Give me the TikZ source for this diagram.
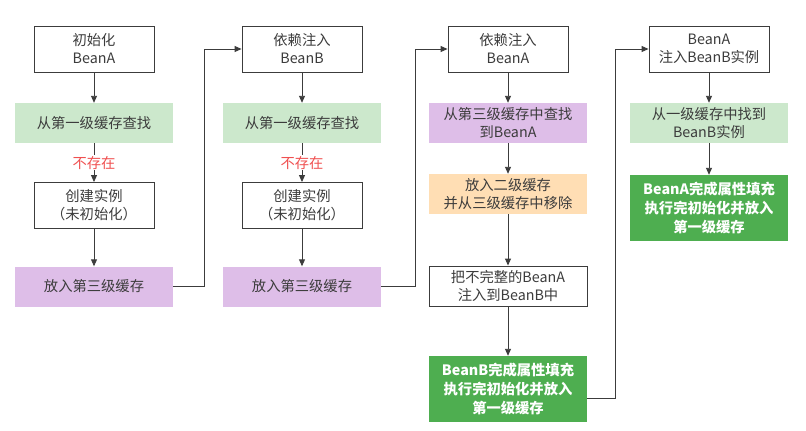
\documentclass[tikz,border=0pt]{standalone}
\usepackage{fontspec}
\setmainfont{Noto Sans CJK SC}
\usetikzlibrary{arrows.meta}
\definecolor{lgreen}{RGB}{204,232,204}
\definecolor{lpurple}{RGB}{222,190,232}
\definecolor{lorange}{RGB}{255,222,180}
\definecolor{dgreen}{RGB}{78,174,80}
\definecolor{lblred}{RGB}{240,80,80}
\definecolor{txt}{RGB}{60,60,60}
\definecolor{edge}{RGB}{60,60,60}
\tikzset{
  base/.style={inner sep=0pt, align=center, text=txt,
    font=\fontsize{14.3}{18}\selectfont},
  wbox/.style={base, draw=edge, line width=0.9pt, fill=white,
    minimum width=120pt, minimum height=46pt},
  wide/.style={minimum width=158pt},
  cbox/.style={base, minimum width=158pt, minimum height=40pt, fill=#1},
  gbox/.style={base, fill=dgreen, text=white, minimum width=158pt,
    minimum height=66pt, font=\fontsize{14.3}{19}\selectfont\bfseries},
  arr/.style={draw=edge, line width=0.9pt, -{Triangle[length=7pt,width=6pt]}},
  lbl/.style={fill=white, inner sep=1pt, text=lblred,
    font=\fontsize{14.3}{16}\selectfont}
}
\begin{document}
\begin{tikzpicture}[x=1pt,y=-1pt]
\useasboundingbox[fill=white] (0,0) rectangle (806,431);
% column 1
\node[wbox] (a1) at (94,49) {初始化\\BeanA};
\node[cbox=lgreen] (a2) at (94,123) {从第一级缓存查找};
\node[wbox] (a3) at (94,205.5) {创建实例\\（未初始化）};
\node[cbox=lpurple] (a4) at (94,286.5) {放入第三级缓存};
% column 2
\node[wbox] (b1) at (302,49) {依赖注入\\BeanB};
\node[cbox=lgreen] (b2) at (302,123) {从第一级缓存查找};
\node[wbox] (b3) at (302,205.5) {创建实例\\（未初始化）};
\node[cbox=lpurple] (b4) at (302,286.5) {放入第三级缓存};
% column 3
\node[wbox] (c1) at (508,49) {依赖注入\\BeanA};
\node[cbox=lpurple] (c2) at (508,123) {从第三级缓存中查找\\到BeanA};
\node[cbox=lorange] (c3) at (508,194) {放入二级缓存\\并从三级缓存中移除};
\node[wbox, wide, minimum height=40pt] (c4) at (508,286) {把不完整的BeanA\\注入到BeanB中};
\node[gbox] (c5) at (508,389) {BeanB完成属性填充\\执行完初始化并放入\\第一级缓存};
% column 4
\node[wbox] (d1) at (709,49) {BeanA\\注入BeanB实例};
\node[cbox=lgreen] (d2) at (709,123) {从一级缓存中找到\\BeanB实例};
\node[gbox] (d3) at (709,208) {BeanA完成属性填充\\执行完初始化并放入\\第一级缓存};
% connectors column 1
\draw[arr] (a1) -- (a2);
\draw[arr] (a2) -- node[lbl] {不存在} (a3);
\draw[arr] (a3) -- (a4);
% column 2
\draw[arr] (b1) -- (b2);
\draw[arr] (b2) -- node[lbl] {不存在} (b3);
\draw[arr] (b3) -- (b4);
% column 3
\draw[arr] (c1) -- (c2);
\draw[arr] (c2) -- (c3);
\draw[arr] (c3) -- (c4);
\draw[arr] (c4) -- (c5);
% column 4
\draw[arr] (d1) -- (d2);
\draw[arr] (d2) -- (d3);
% cross connectors
\coordinate (k1) at (204,0);
\coordinate (k2) at (415,0);
\coordinate (k3) at (615,0);
\draw[arr] (a4.east) -- (a4.east -| k1) -- (b1.west -| k1) -- (b1.west);
\draw[arr] (b4.east) -- (b4.east -| k2) -- (c1.west -| k2) -- (c1.west);
\draw[arr] ([yshift=-9pt]c5.east) -- ([yshift=-9pt]c5.east -| k3) -- (d1.west -| k3) -- (d1.west);
\end{tikzpicture}
\end{document}
